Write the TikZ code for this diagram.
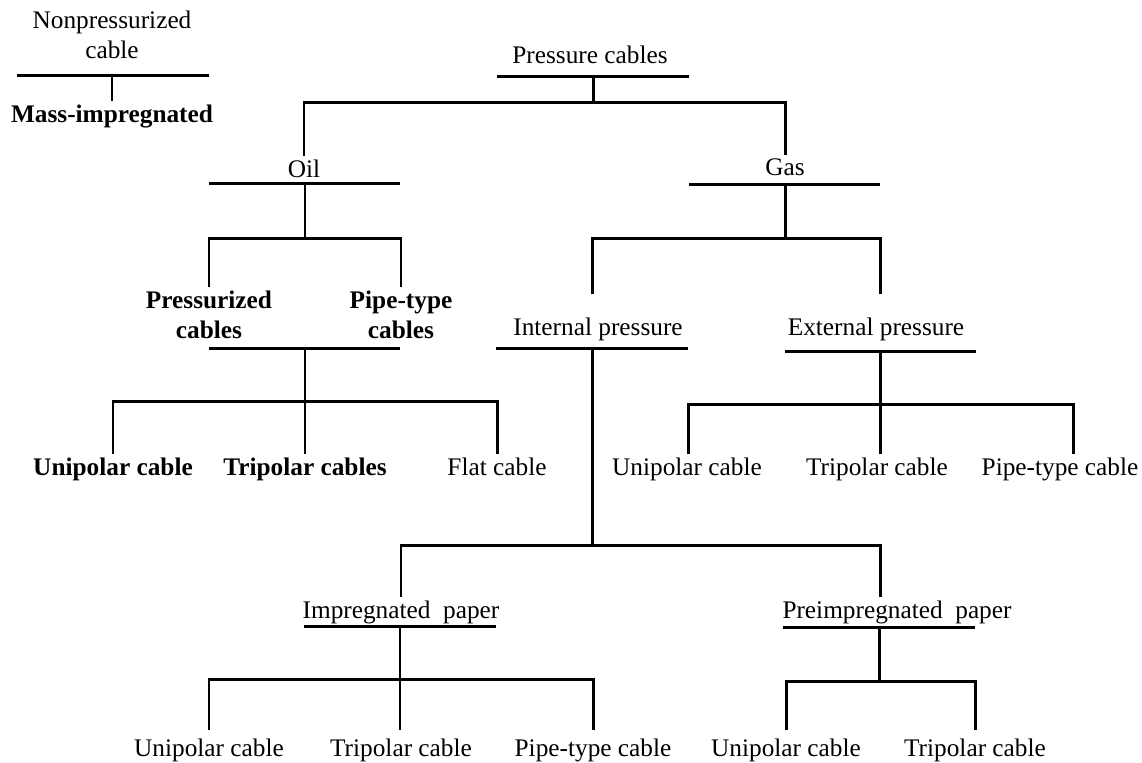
\documentclass[tikz,border=0pt]{standalone}
\usepackage{fontspec}
\setmainfont{Liberation Serif}
\begin{document}
\begin{tikzpicture}[
  x=0.02cm, y=-0.02cm,
  catnode/.style={font=\fontsize{14.4}{17.5}\selectfont, anchor=north, inner sep=0pt,
                  outer sep=2pt, align=center},
  boldnode/.style={catnode, font=\fontsize{14.4}{17.5}\selectfont\bfseries},
  bar/.style={line width=1.7pt},
  endgap/.style={shorten <=0.1cm, shorten >=0.1cm}
]
  \useasboundingbox (0,0) rectangle (1142,762);

  % labels
  \node[catnode]  (np)    at (112,7)   {Nonpressurized\\cable};
  \node[boldnode] (mass)  at (112,101) {Mass-impregnated};
  \node[catnode]  (pc)    at (590,42)  {Pressure cables};
  \node[catnode]  (oil)   at (304,156) {Oil};
  \node[catnode]  (gas)   at (785,155) {Gas};
  \node[boldnode] (pz)    at (209,287) {Pressurized\\cables};
  \node[boldnode] (ptc)   at (401,287) {Pipe-type\\cables};
  \node[boldnode] (uni1)  at (113,454) {Unipolar cable};
  \node[boldnode] (tri1)  at (305,454) {Tripolar cables};
  \node[catnode]  (flat)  at (497,454) {Flat cable};
  \node[catnode]  (intp)  at (598,314) {Internal pressure};
  \node[catnode]  (extp)  at (876,314) {External pressure};
  \node[catnode]  (uni2)  at (687,454) {Unipolar cable};
  \node[catnode]  (tri2)  at (877,454) {Tripolar cable};
  \node[catnode]  (pipe2) at (1060,454) {Pipe-type cable};
  \node[catnode]  (imp)   at (401,597) {Impregnated\ \ paper};
  \node[catnode]  (pre)   at (897,597) {Preimpregnated\ \ paper};
  \node[catnode]  (uni3)  at (209,735) {Unipolar cable};
  \node[catnode]  (tri3)  at (401,735) {Tripolar cable};
  \node[catnode]  (pipe3) at (593,735) {Pipe-type cable};
  \node[catnode]  (uni4)  at (786,735) {Unipolar cable};
  \node[catnode]  (tri4)  at (975,735) {Tripolar cable};

  % nonpressurized
  \coordinate (npL) at (17,75);
  \coordinate (npR) at (209,75);
  \draw[bar] (npL) -- (npR);
  \draw[bar] (mass.north |- npL) -- (mass.north);

  % pressure cables
  \coordinate (pcL) at (497,76);
  \coordinate (pcR) at (689,76);
  \coordinate (pcJ) at (593,102);
  \draw[bar] (pcL) -- (pcR);
  \draw[bar] (pcJ |- pcL) -- (pcJ);
  \draw[bar] (oil.north) |- (pcJ) -| (gas.north);

  % oil
  \coordinate (oilL) at (209,183);
  \coordinate (oilR) at (400,183);
  \coordinate (oilJ) at (305,238);
  \draw[bar] (oilL) -- (oilR);
  \draw[bar] (oilJ |- oilL) -- (oilJ);
  \draw[bar] (pz.north) |- (oilJ) -| (ptc.north);

  \coordinate (pzL) at (209,348);
  \coordinate (pzR) at (400,348);
  \coordinate (pzJ) at (305,401);
  \draw[bar] (pzL) -- (pzR);
  \draw[bar] (pzJ |- pzL) -- (tri1.north);
  \draw[bar] (uni1.north) |- (pzJ) -| (flat.north);

  % gas
  \coordinate (gasL) at (689,184);
  \coordinate (gasR) at (880,184);
  \coordinate (gasJ) at (785,238);
  \coordinate (inJ)  at (592,238);
  \coordinate (exJ)  at (880,238);
  \draw[bar] (gasL) -- (gasR);
  \draw[bar] (gasJ |- gasL) -- (gasJ);
  \draw[bar, shorten <=0.4cm, shorten >=0.4cm]
    (inJ |- intp.north) -- (inJ) -- (exJ) -- (exJ |- extp.north);

  % internal pressure
  \coordinate (inL)  at (496,348);
  \coordinate (inR)  at (688,348);
  \coordinate (inK)  at (592,545);
  \coordinate (preJ) at (880,545);
  \draw[bar] (inL) -- (inR);
  \draw[bar] (inK |- inL) -- (inK);
  \draw[bar] (imp.north) |- (inK) -- (preJ) -- (preJ |- pre.north);

  % external pressure
  \coordinate (exL) at (785,351);
  \coordinate (exR) at (976,351);
  \coordinate (exK) at (880,404);
  \coordinate (exA) at (688,404);
  \coordinate (exB) at (1073,404);
  \draw[bar] (exL) -- (exR);
  \draw[bar] (exK |- exL) -- (exK |- tri2.north);
  \draw[bar] (exA |- uni2.north) -- (exA) -- (exB) -- (exB |- pipe2.north);

  % impregnated paper
  \coordinate (imL) at (304,626);
  \coordinate (imR) at (496,626);
  \coordinate (imK) at (400,679);
  \draw[bar] (imL) -- (imR);
  \draw[bar, shorten >=0.1cm] (imK |- imL) -- (imK |- tri3.north);
  \draw[bar, endgap] (uni3.north) |- (imK) -| (pipe3.north);

  % preimpregnated paper
  \coordinate (prL) at (783,627);
  \coordinate (prR) at (975,627);
  \coordinate (prK) at (879,681);
  \draw[bar] (prL) -- (prR);
  \draw[bar] (prK |- prL) -- (prK);
  \draw[bar, endgap] (uni4.north) |- (prK) -| (tri4.north);
\end{tikzpicture}
\end{document}
